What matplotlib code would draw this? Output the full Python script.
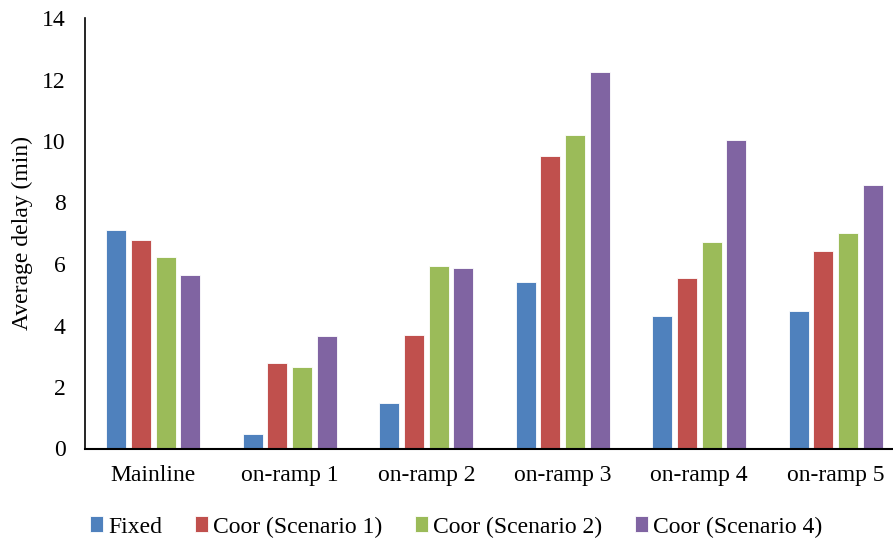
import numpy as np
import matplotlib
matplotlib.use("Agg")
import matplotlib.pyplot as plt

plt.rcParams['font.family'] = ['Liberation Serif', 'DejaVu Serif']

categories = ["Mainline", "on-ramp 1", "on-ramp 2", "on-ramp 3", "on-ramp 4", "on-ramp 5"]
series_names = ["Fixed", "Coor (Scenario 1)", "Coor (Scenario 2)", "Coor (Scenario 4)"]
fixed = [7.10, 0.46, 1.48, 5.42, 4.32, 4.47]
coor_s1 = [6.79, 2.79, 3.70, 9.52, 5.54, 6.42]
coor_s2 = [6.22, 2.64, 5.93, 10.19, 6.73, 7.02]
coor_s4 = [5.65, 3.66, 5.88, 12.24, 10.03, 8.58]
yticks = [0, 2, 4, 6, 8, 10, 12, 14]

colors = ["#4F81BD", "#C0504D", "#9BBB59", "#8064A2"]

fig = plt.figure(figsize=(8.93, 5.42), dpi=100)
ax = fig.add_axes([85 / 893, 1 - 448.5 / 542, 819 / 893, 430.5 / 542])

x = np.arange(len(categories))
pitch = 0.181
width = 0.146
for i, (vals, name, c) in enumerate(zip([fixed, coor_s1, coor_s2, coor_s4], series_names, colors)):
    ax.bar(x + (i - 1.5) * pitch, vals, width, color=c, label=name,
           edgecolor="white", linewidth=0.6)

ax.set_xlim(-0.5, len(categories) - 0.5)
ax.set_ylim(0, 14)
ax.set_yticks(yticks)
ax.set_xticks(x)
ax.set_xticklabels(categories)
ax.tick_params(axis="both", length=0, labelsize=17, colors="black")
ax.tick_params(axis="x", pad=12)
ax.tick_params(axis="y", pad=14)
ax.set_ylabel("Average delay (min)", fontsize=17, labelpad=6)

for side in ["top", "right"]:
    ax.spines[side].set_visible(False)
ax.spines["left"].set_linewidth(1.2)
ax.spines["bottom"].set_linewidth(1.5)

handles, labels = ax.get_legend_handles_labels()
fig.legend(handles, labels, loc="center", bbox_to_anchor=(456 / 893, 1 - 527 / 542),
           ncol=4, frameon=False, fontsize=17, handlelength=0.55, handleheight=0.65,
           handletextpad=0.2, columnspacing=1.4)

fig.savefig("out.png", dpi=100)
